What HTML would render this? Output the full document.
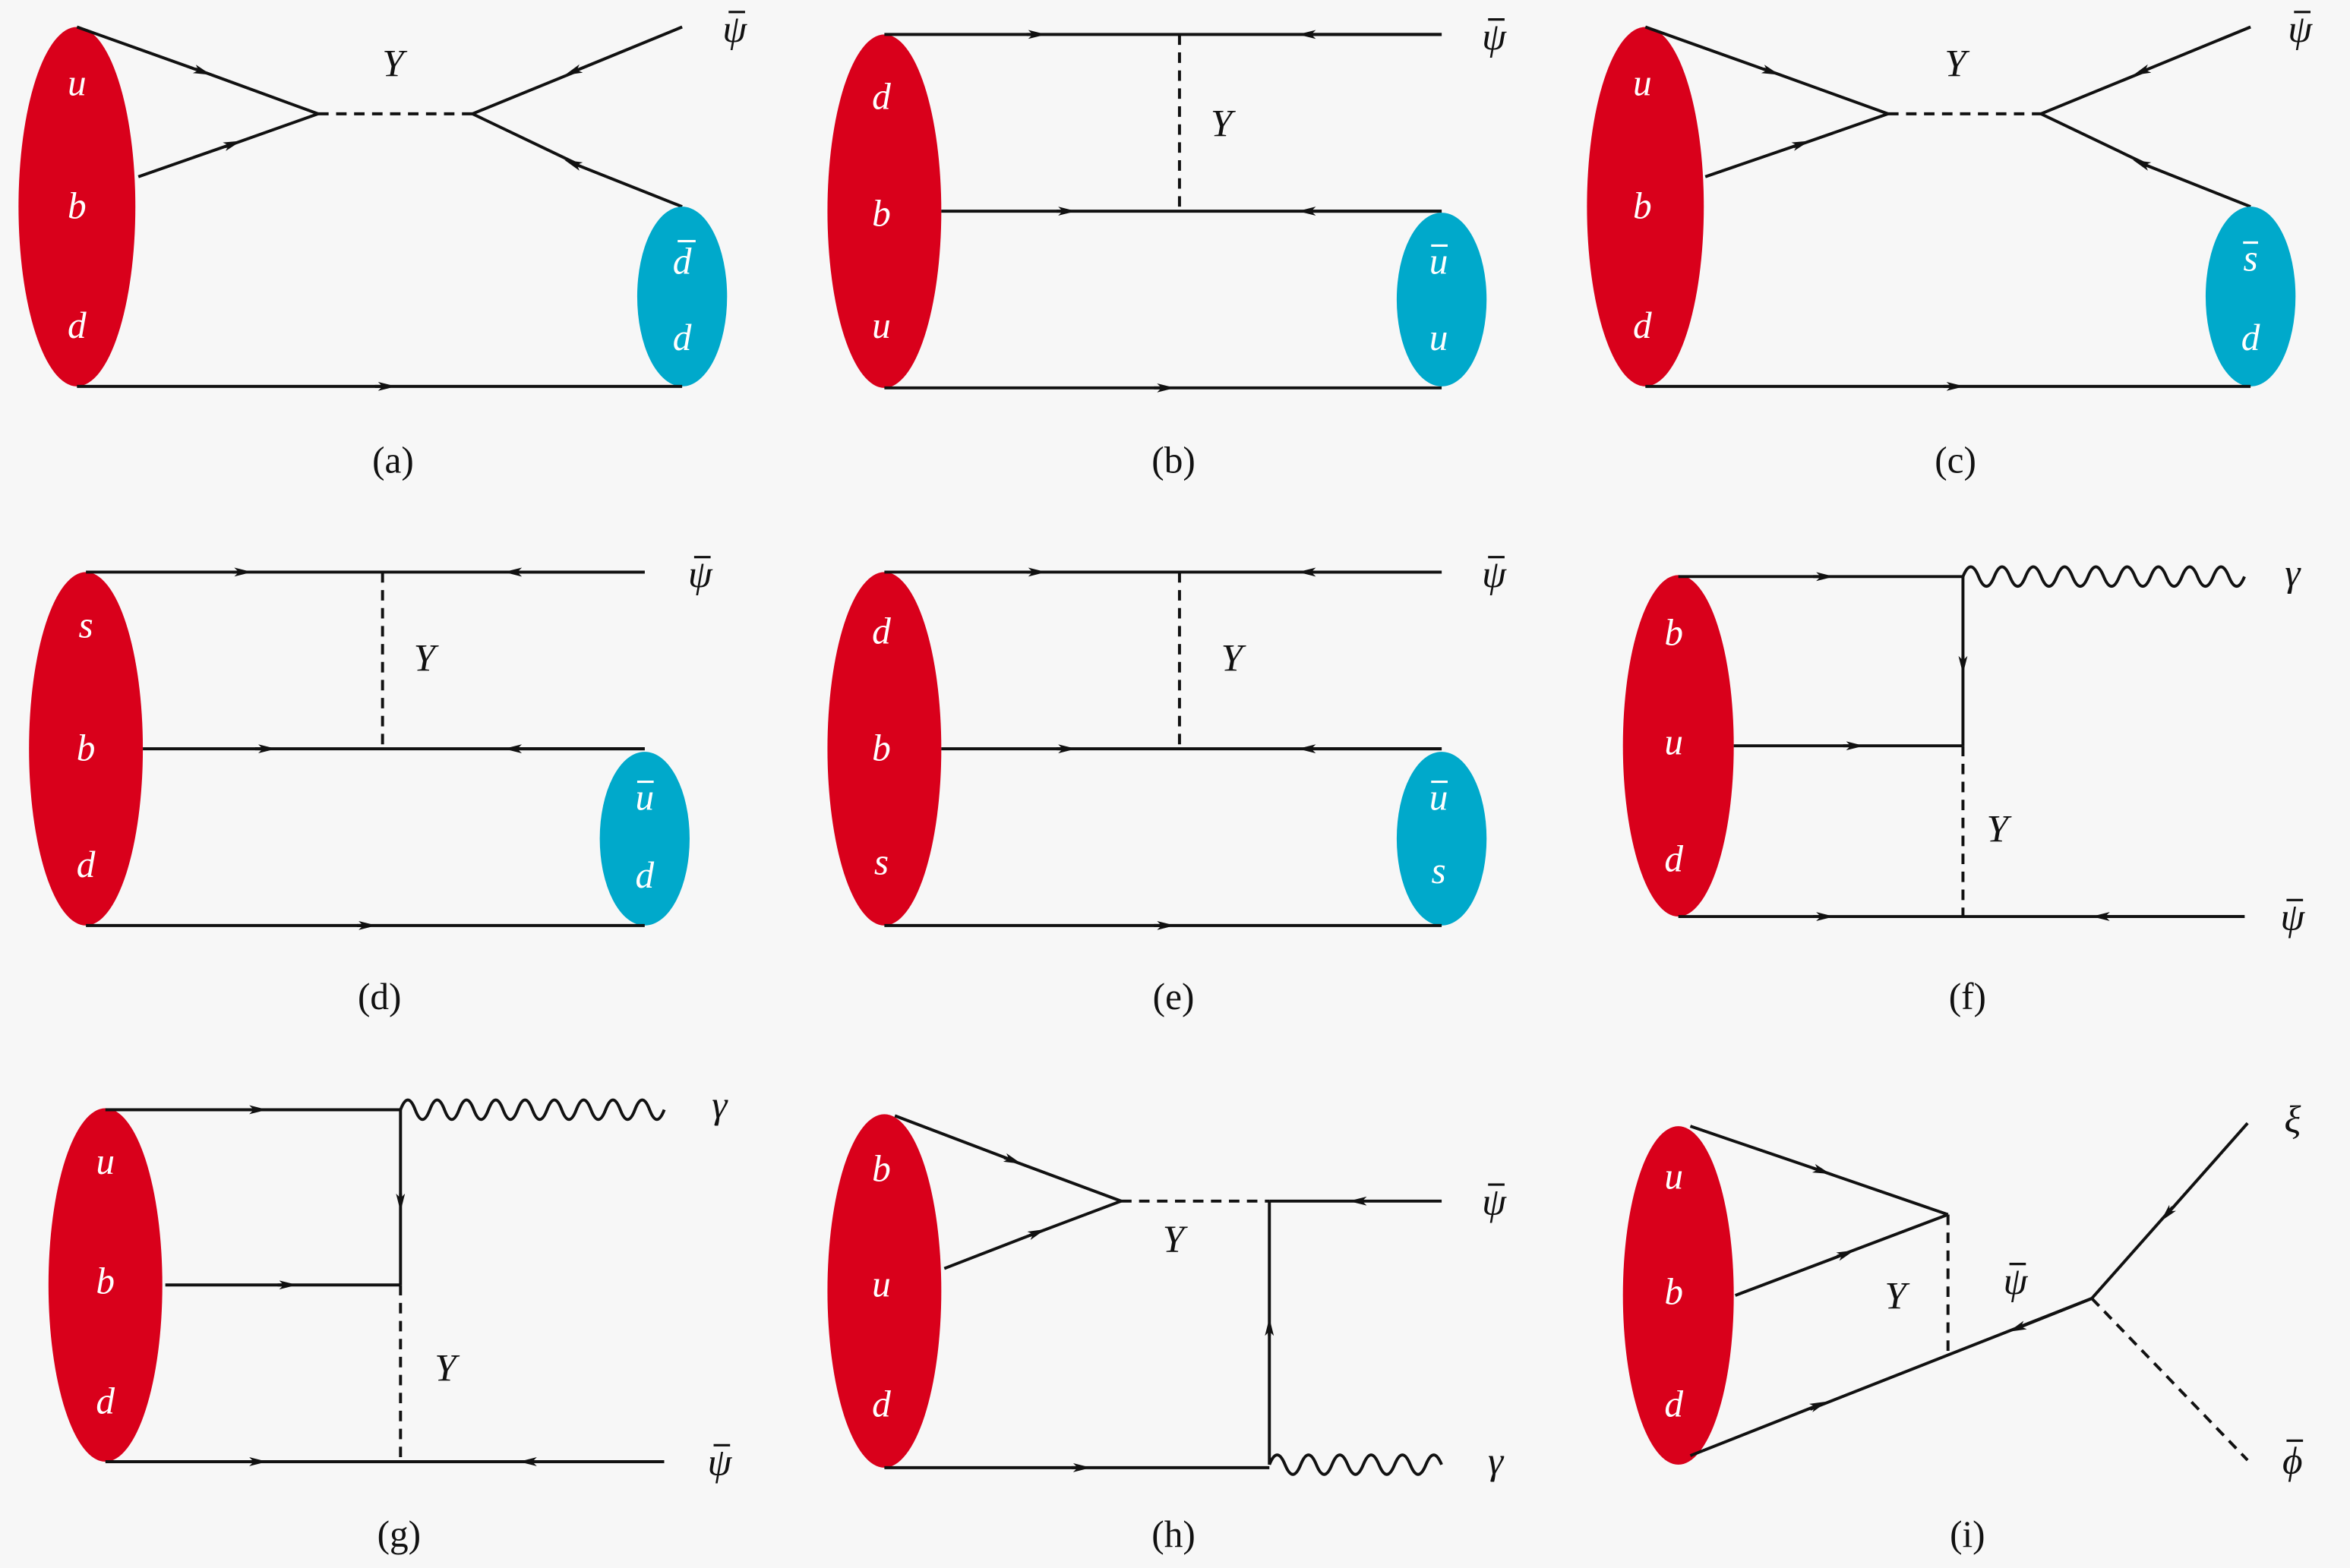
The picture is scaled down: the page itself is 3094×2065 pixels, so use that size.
<!DOCTYPE html>
<html><head><meta charset="utf-8"><style>
html,body{margin:0;padding:0;background:#f7f7f7;}
svg{display:block}
text{font-family:"Liberation Serif","DejaVu Serif",serif;}
.m{font-style:italic;font-size:26px;fill:#111;text-anchor:middle;dominant-baseline:middle}
.w{font-style:italic;font-size:25px;fill:#fff;text-anchor:middle;dominant-baseline:middle}
.c{font-size:25px;fill:#111;text-anchor:middle;dominant-baseline:middle}
.l{stroke:#111;stroke-width:2;fill:none}
.bar{stroke:#111;stroke-width:1.6;fill:none}
.wb{stroke:#fff;stroke-width:1.6;fill:none}
.a{stroke:#111;stroke-width:2;fill:none;marker-end:url(#ar)}
.d{stroke:#111;stroke-width:2;fill:none;stroke-dasharray:7,5}
.r{fill:#d9001b}.b{fill:#00a9cb}
</style></head><body>
<svg width="3094" height="2065" viewBox="0 0 1568 1047" xmlns="http://www.w3.org/2000/svg">
<defs><marker id="ar" markerUnits="userSpaceOnUse" markerWidth="14" markerHeight="8" refX="6" refY="3" orient="auto"><path d="M0,0 L12,3 L0,6 L3,3 z" fill="#111"/></marker></defs>
<rect width="1568" height="1047" fill="#f7f7f7"/>

<!-- (a) -->
<ellipse class="r" cx="51" cy="138" rx="39" ry="120"/>
<path class="a" d="M51,18 L135,48"/><path class="l" d="M130,46 L212,76"/>
<path class="a" d="M92,118 L155,96"/><path class="l" d="M150,98 L212,76"/>
<path class="d" d="M212,76 L315,76"/>
<path class="a" d="M455,18 L382,48"/><path class="l" d="M386,47 L315,76"/>
<path class="a" d="M455,138 L382,109"/><path class="l" d="M386,110 L315,76"/>
<ellipse class="b" cx="455" cy="198" rx="30" ry="60"/>
<path class="a" d="M51,258 L258,258"/><path class="l" d="M250,258 L455,258"/>
<text class="m" x="262" y="45">Y</text><text class="m" x="490" y="22">ψ</text><path class="bar" d="M486,8 L497,8"/>
<text class="w" x="51" y="58">u</text><text class="w" x="51" y="140">b</text><text class="w" x="51" y="220">d</text>
<text class="w" x="455" y="177">d</text><path class="wb" d="M452,161 L464,161"/><text class="w" x="455" y="228">d</text>
<text class="c" x="262" y="310">(a)</text>

<!-- (b) -->
<ellipse class="r" cx="590" cy="141" rx="38" ry="118"/>
<path class="a" d="M590,23 L692,23"/><path class="l" d="M685,23 L962,23"/><path class="a" d="M962,23 L872,23"/>
<path class="d" d="M787,23 L787,141"/>
<path class="a" d="M628,141 L712,141"/><path class="l" d="M705,141 L962,141"/><path class="a" d="M962,141 L872,141"/>
<ellipse class="b" cx="962" cy="200" rx="30" ry="58"/>
<path class="a" d="M590,259 L778,259"/><path class="l" d="M770,259 L962,259"/>
<text class="m" x="815" y="85">Y</text><text class="m" x="997" y="27">ψ</text><path class="bar" d="M993,13 L1004,13"/>
<text class="w" x="588" y="67">d</text><text class="w" x="588" y="145">b</text><text class="w" x="588" y="220">u</text>
<text class="w" x="960" y="177">u</text><path class="wb" d="M955,164 L966,164"/><text class="w" x="960" y="228">u</text>
<text class="c" x="783" y="310">(b)</text>

<!-- (c) -->
<ellipse class="r" cx="1098" cy="138" rx="39" ry="120"/>
<path class="a" d="M1098,18 L1182,48"/><path class="l" d="M1177,46 L1260,76"/>
<path class="a" d="M1138,118 L1202,96"/><path class="l" d="M1197,98 L1260,76"/>
<path class="d" d="M1260,76 L1362,76"/>
<path class="a" d="M1502,18 L1429,48"/><path class="l" d="M1433,47 L1362,76"/>
<path class="a" d="M1502,138 L1429,109"/><path class="l" d="M1433,110 L1362,76"/>
<ellipse class="b" cx="1502" cy="198" rx="30" ry="60"/>
<path class="a" d="M1098,258 L1305,258"/><path class="l" d="M1297,258 L1502,258"/>
<text class="m" x="1305" y="45">Y</text><text class="m" x="1535" y="22">ψ</text><path class="bar" d="M1531,8 L1542,8"/>
<text class="w" x="1096" y="58">u</text><text class="w" x="1096" y="140">b</text><text class="w" x="1096" y="220">d</text>
<text class="w" x="1502" y="175">s</text><path class="wb" d="M1497,162 L1507,162"/><text class="w" x="1502" y="228">d</text>
<text class="c" x="1305" y="310">(c)</text>

<!-- (d) -->
<ellipse class="r" cx="57" cy="500" rx="38" ry="118"/>
<path class="a" d="M57,382 L162,382"/><path class="l" d="M155,382 L430,382"/><path class="a" d="M430,382 L342,382"/>
<path class="d" d="M255,382 L255,500"/>
<path class="a" d="M95,500 L178,500"/><path class="l" d="M170,500 L430,500"/><path class="a" d="M430,500 L342,500"/>
<ellipse class="b" cx="430" cy="560" rx="30" ry="58"/>
<path class="a" d="M57,618 L245,618"/><path class="l" d="M238,618 L430,618"/>
<text class="m" x="283" y="442">Y</text><text class="m" x="467" y="386">ψ</text><path class="bar" d="M463,372 L474,372"/>
<text class="w" x="57" y="420">s</text><text class="w" x="57" y="502">b</text><text class="w" x="57" y="580">d</text>
<text class="w" x="430" y="535">u</text><path class="wb" d="M425,522 L436,522"/><text class="w" x="430" y="587">d</text>
<text class="c" x="253" y="668">(d)</text>

<!-- (e) -->
<ellipse class="r" cx="590" cy="500" rx="38" ry="118"/>
<path class="a" d="M590,382 L692,382"/><path class="l" d="M685,382 L962,382"/><path class="a" d="M962,382 L872,382"/>
<path class="d" d="M787,382 L787,500"/>
<path class="a" d="M628,500 L712,500"/><path class="l" d="M705,500 L962,500"/><path class="a" d="M962,500 L872,500"/>
<ellipse class="b" cx="962" cy="560" rx="30" ry="58"/>
<path class="a" d="M590,618 L778,618"/><path class="l" d="M770,618 L962,618"/>
<text class="m" x="822" y="442">Y</text><text class="m" x="997" y="386">ψ</text><path class="bar" d="M993,372 L1004,372"/>
<text class="w" x="588" y="424">d</text><text class="w" x="588" y="502">b</text><text class="w" x="588" y="578">s</text>
<text class="w" x="960" y="535">u</text><path class="wb" d="M955,522 L966,522"/><text class="w" x="960" y="584">s</text>
<text class="c" x="783" y="668">(e)</text>

<!-- (f) -->
<ellipse class="r" cx="1120" cy="498" rx="37" ry="114"/>
<path class="a" d="M1120,385 L1218,385"/><path class="l" d="M1210,385 L1310,385"/>
<path class="l" d="M1310,385 q5.2,-13 10.44,0 t10.44,0 t10.44,0 t10.44,0 t10.44,0 t10.44,0 t10.44,0 t10.44,0 t10.44,0 t10.44,0 t10.44,0 t10.44,0 t10.44,0 t10.44,0 t10.44,0 t10.44,0 t10.44,0 t10.44,0"/>
<path class="a" d="M1310,385 L1310,444"/><path class="l" d="M1310,438 L1310,498"/>
<path class="a" d="M1157,498 L1238,498"/><path class="l" d="M1230,498 L1310,498"/>
<path class="d" d="M1310,498 L1310,612"/>
<path class="a" d="M1120,612 L1218,612"/><path class="l" d="M1210,612 L1498,612"/><path class="a" d="M1498,612 L1402,612"/>
<text class="m" x="1333" y="556">Y</text><text class="m" x="1530" y="385">γ</text><text class="m" x="1530" y="615">ψ</text><path class="bar" d="M1526,601 L1537,601"/>
<text class="w" x="1117" y="425">b</text><text class="w" x="1117" y="498">u</text><text class="w" x="1117" y="576">d</text>
<text class="c" x="1313" y="668">(f)</text>

<!-- (g) -->
<ellipse class="r" cx="70" cy="858" rx="38" ry="118"/>
<path class="a" d="M70,741 L172,741"/><path class="l" d="M165,741 L267,741"/>
<path class="l" d="M267,741 q4.9,-13 9.78,0 t9.78,0 t9.78,0 t9.78,0 t9.78,0 t9.78,0 t9.78,0 t9.78,0 t9.78,0 t9.78,0 t9.78,0 t9.78,0 t9.78,0 t9.78,0 t9.78,0 t9.78,0 t9.78,0 t9.78,0"/>
<path class="a" d="M267,741 L267,803"/><path class="l" d="M267,797 L267,858"/>
<path class="a" d="M110,858 L192,858"/><path class="l" d="M185,858 L267,858"/>
<path class="d" d="M267,858 L267,976"/>
<path class="a" d="M70,976 L172,976"/><path class="l" d="M165,976 L443,976"/><path class="a" d="M443,976 L352,976"/>
<text class="m" x="297" y="916">Y</text><text class="m" x="480" y="740">γ</text><text class="m" x="480" y="979">ψ</text><path class="bar" d="M476,965 L487,965"/>
<text class="w" x="70" y="778">u</text><text class="w" x="70" y="858">b</text><text class="w" x="70" y="938">d</text>
<text class="c" x="266" y="1027">(g)</text>

<!-- (h) -->
<ellipse class="r" cx="590" cy="862" rx="38" ry="118"/>
<path class="a" d="M597,745 L676,775"/><path class="l" d="M670,773 L748,802"/>
<path class="a" d="M630,847 L692,823"/><path class="l" d="M687,825 L748,802"/>
<path class="d" d="M748,802 L847,802"/>
<path class="a" d="M962,802 L906,802"/><path class="l" d="M910,802 L847,802"/>
<path class="a" d="M847,978 L847,886"/><path class="l" d="M847,892 L847,802"/>
<path class="a" d="M590,980 L722,980"/><path class="l" d="M715,980 L847,980"/>
<path class="l" d="M847,978 q5.2,-13 10.45,0 t10.45,0 t10.45,0 t10.45,0 t10.45,0 t10.45,0 t10.45,0 t10.45,0 t10.45,0 t10.45,0 t10.45,0"/>
<text class="m" x="783" y="830">Y</text><text class="m" x="997" y="805">ψ</text><path class="bar" d="M993,791 L1004,791"/><text class="m" x="998" y="978">γ</text>
<text class="w" x="588" y="783">b</text><text class="w" x="588" y="860">u</text><text class="w" x="588" y="940">d</text>
<text class="c" x="783" y="1027">(h)</text>

<!-- (i) -->
<ellipse class="r" cx="1120" cy="865" rx="37" ry="113"/>
<path class="a" d="M1128,752 L1216,782"/><path class="l" d="M1210,780 L1300,811"/>
<path class="a" d="M1158,865 L1232,837"/><path class="l" d="M1226,839 L1300,811"/>
<path class="d" d="M1300,811 L1300,907"/>
<path class="a" d="M1128,972 L1214,938"/><path class="l" d="M1208,941 L1396,867"/><path class="a" d="M1396,867 L1346,887"/>
<path class="a" d="M1500,750 L1446,811"/><path class="l" d="M1450,806 L1396,867"/>
<path class="d" d="M1396,867 L1500,975"/>
<text class="m" x="1265" y="868">Y</text><text class="m" x="1345" y="858">ψ</text><path class="bar" d="M1341,844 L1352,844"/><text class="m" x="1530" y="750">ξ</text>
<text class="m" x="1530" y="978">ϕ</text><path class="bar" d="M1526,962 L1537,962"/>
<text class="w" x="1117" y="788">u</text><text class="w" x="1117" y="865">b</text><text class="w" x="1117" y="940">d</text>
<text class="c" x="1313" y="1027">(i)</text>
</svg>
</body></html>
